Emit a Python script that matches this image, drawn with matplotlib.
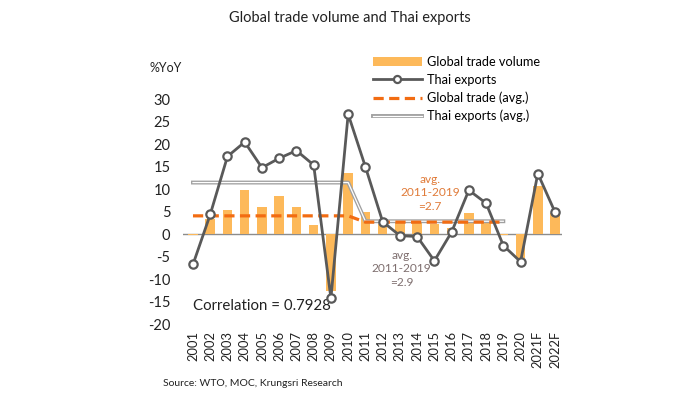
import matplotlib
matplotlib.use("Agg")
import matplotlib.pyplot as plt
import matplotlib.patheffects as pe
import numpy as np

plt.rcParams['font.family'] = ['Lato', 'DejaVu Sans']

years = ['2001', '2002', '2003', '2004', '2005', '2006', '2007', '2008', '2009', '2010',
         '2011', '2012', '2013', '2014', '2015', '2016', '2017', '2018', '2019', '2020',
         '2021F', '2022F']
global_trade = [-0.2, 3.4, 5.5, 9.8, 6.1, 8.4, 6.1, 2.1, -12.7, 13.7,
                5.0, 2.2, 2.4, 2.6, 2.2, 1.4, 4.7, 2.8, -0.1, -5.3, 10.7, 4.7]
thai_exports = [-6.7, 4.4, 17.3, 20.5, 14.8, 16.9, 18.6, 15.4, -14.2, 26.7,
                15.0, 2.8, -0.3, -0.5, -5.9, 0.5, 9.8, 6.9, -2.5, -6.1, 13.5, 4.9]
global_avg = [4.1, 4.1, 4.1, 4.1, 4.1, 4.1, 4.1, 4.1, 4.1, 4.1,
              2.7, 2.7, 2.7, 2.7, 2.7, 2.7, 2.7, 2.7, 2.7]
thai_avg = [11.5, 11.5, 11.5, 11.5, 11.5, 11.5, 11.5, 11.5, 11.5, 11.5,
            2.9, 2.9, 2.9, 2.9, 2.9, 2.9, 2.9, 2.9, 2.9]
yticks = [-20, -15, -10, -5, 0, 5, 10, 15, 20, 25, 30]

fig = plt.figure(figsize=(7.0, 4.03), dpi=100)
ax = fig.add_axes([0.2614, 0.1953, 0.5414, 0.5583])

x = np.arange(len(years))
bars = ax.bar(x, global_trade, width=0.55, color='#FDB95A', zorder=2,
              label='Global trade volume')
ax.axhline(0, color='#8C8C8C', lw=1.0, zorder=1)

xa = np.arange(len(thai_avg))
l_thai_avg, = ax.plot(xa, thai_avg, color='white', lw=0.9, zorder=3,
                      label='Thai exports (avg.)',
                      path_effects=[pe.Stroke(linewidth=2.8, foreground='#A0A0A0'), pe.Normal()])
l_glob_avg, = ax.plot(np.arange(len(global_avg)), global_avg, color='#F26C12', lw=2.3,
                      dashes=(3.2, 1.7), zorder=4, label='Global trade (avg.)')
l_thai, = ax.plot(x, thai_exports, color='#595959', lw=2.0, marker='o', ms=6,
                  mfc='white', mec='#595959', mew=1.6, zorder=5, label='Thai exports',
                  clip_on=False)

ax.set_xlim(-0.58, 21.4)
ax.set_ylim(-20, 30)
ax.set_yticks(yticks)
ax.set_yticklabels([str(v) for v in yticks])
ax.set_xticks(x)
ax.set_xticklabels(years, rotation=90)
ax.tick_params(axis='y', length=0, pad=9, labelsize=10.5, labelcolor='#222222')
ax.tick_params(axis='x', length=0, pad=5, labelsize=9.3, labelcolor='#222222')
for s in ax.spines.values():
    s.set_visible(False)

ax.text(0, -15.9, 'Correlation = 0.7928', ha='left', va='center', fontsize=10.8,
        color='#222222')
ax.text(13.75, 9.2, 'avg.\n2011-2019\n=2.7', ha='center', va='center', fontsize=8.6,
        color='#E07B39', linespacing=1.3)
ax.text(12.1, -7.7, 'avg.\n2011-2019\n=2.9', ha='center', va='center', fontsize=8.6,
        color='#7F6F6F', linespacing=1.3)

fig.text(0.5, 0.955, 'Global trade volume and Thai exports', ha='center', va='center',
         fontsize=10.5, color='#222222')
fig.text(150 / 700, 1 - 68 / 403, '%YoY', ha='left', va='center', fontsize=9,
         color='#222222')
fig.text(163 / 700, 1 - 383 / 403, 'Source: WTO, MOC, Krungsri Research', ha='left',
         va='center', fontsize=7.5, color='#222222')

leg = fig.legend(handles=[bars, l_thai, l_glob_avg, l_thai_avg],
                 loc='upper left', bbox_to_anchor=(373 / 700, 1 - 56 / 403),
                 frameon=False, fontsize=9.2, handlelength=3.8, handletextpad=0.4,
                 labelspacing=0.45, borderaxespad=0, borderpad=0, markerscale=0.85)

fig.savefig('out.png', dpi=100, facecolor='white')
